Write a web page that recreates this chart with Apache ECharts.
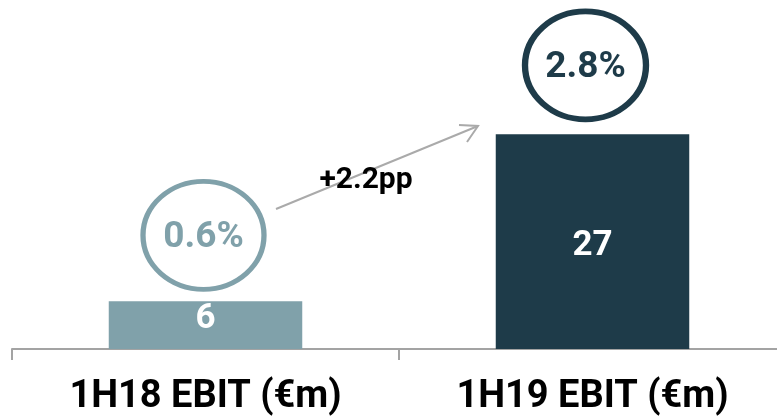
<!DOCTYPE html>
<html>
<head>
<meta charset="utf-8">
<script src="https://cdn.jsdelivr.net/npm/echarts@6/dist/echarts.min.js"></script>
<style>
  html, body { margin: 0; padding: 0; background: #ffffff; }
  #chart { width: 777px; height: 417px; }
</style>
</head>
<body>
<div id="chart"></div>
<script>
// EBIT by half-year, with EBIT margin shown in the rings above the bars
const categories = ['1H18 EBIT (€m)', '1H19 EBIT (€m)'];
const ebit = [6, 27];
const marginPct = [0.6, 2.8];
const barColors = ['#80a1aa', '#1e3b49'];

const FONT = "Roboto, 'DejaVu Sans Condensed', sans-serif";

const chart = echarts.init(document.getElementById('chart'), null, { renderer: 'canvas' });

const ringOffsets = [[-2, -66], [-7, -69]];
const valueLabelOffsets = [[0, -6], [0, 5]];

chart.setOption({
  animation: false,
  backgroundColor: '#ffffff',
  grid: {
    left: 12, width: 774, top: 31, bottom: 68,
    containLabel: false,
    outerBoundsMode: 'none'
  },
  xAxis: {
    type: 'category',
    data: categories,
    axisLine: { lineStyle: { color: '#a3a3a3', width: 2 } },
    axisTick: { show: true, interval: 0, length: 11, lineStyle: { color: '#a3a3a3', width: 2 } },
    axisLabel: {
      interval: 0,
      color: '#000000',
      fontSize: 38,
      fontWeight: 'bold',
      fontFamily: FONT,
      margin: 29
    }
  },
  yAxis: {
    type: 'value',
    min: 0,
    max: 40,
    show: false,
    splitLine: { show: false }
  },
  series: [
    {
      type: 'bar',
      barWidth: '50%',
      data: ebit.map((v, i) => ({
        value: v,
        itemStyle: { color: barColors[i] },
        label: { offset: valueLabelOffsets[i] }
      })),
      label: {
        show: true,
        position: 'inside',
        color: '#ffffff',
        fontSize: 35,
        fontWeight: 'bold',
        fontFamily: FONT
      },
      z: 2
    },
    {
      // margin rings sitting above each bar
      type: 'scatter',
      symbol: 'circle',
      symbolSize: [121, 108],
      data: ebit.map((v, i) => ({
        value: [i, v],
        symbolOffset: ringOffsets[i],
        itemStyle: {
          color: 'rgba(255,255,255,0)',
          opacity: 1,
          borderColor: barColors[i],
          borderWidth: i === 0 ? 5 : 6
        },
        label: {
          show: true,
          position: 'inside',
          offset: [0, 2],
          formatter: marginPct[i].toFixed(1) + '%',
          color: barColors[i],
          fontSize: 37,
          fontWeight: 'bold',
          fontFamily: FONT
        }
      })),
      emphasis: { disabled: true },
      z: 3
    }
  ]
});

// arrow and change annotation between the two rings
const delta = (marginPct[1] - marginPct[0]).toFixed(1);
chart.setOption({
  graphic: [
    {
      type: 'polyline',
      shape: { points: [[276, 209], [478, 126]] },
      style: { stroke: '#aaaaaa', lineWidth: 2, fill: null },
      z: 5
    },
    {
      type: 'polyline',
      shape: { points: [[459, 125], [478, 126], [467, 142]] },
      style: { stroke: '#aaaaaa', lineWidth: 2, fill: null },
      z: 5
    },
    {
      type: 'text',
      x: 366,
      y: 180,
      style: {
        text: '+' + delta + 'pp',
        fill: '#000000',
        font: "bold 30px " + FONT,
        textAlign: 'center',
        textVerticalAlign: 'middle'
      },
      z: 6
    }
  ]
});
</script>
</body>
</html>
